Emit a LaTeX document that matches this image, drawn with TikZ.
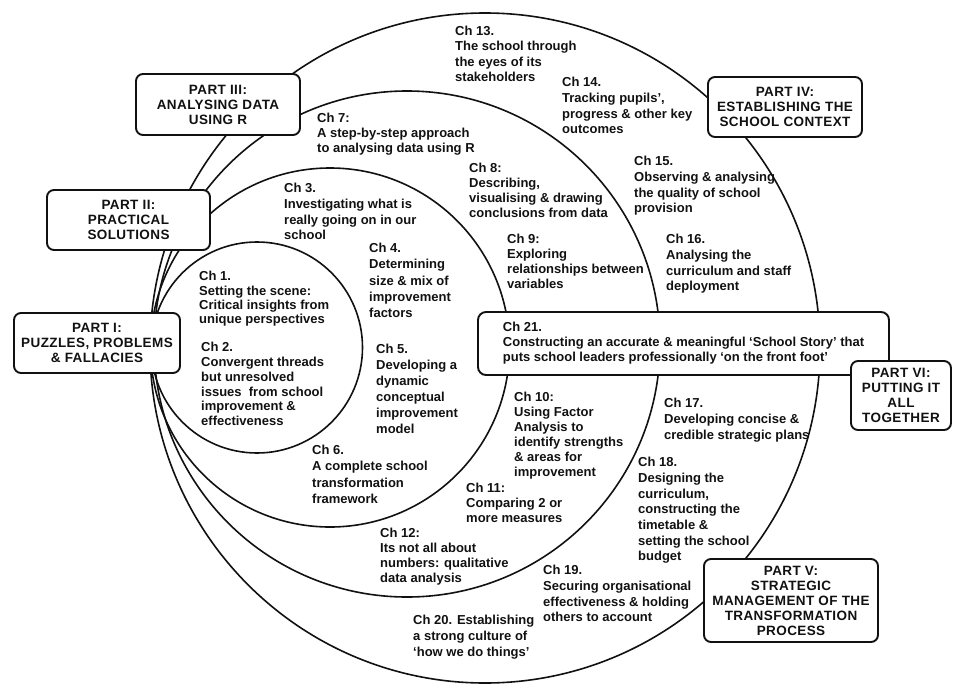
\documentclass[tikz,border=0pt]{standalone}
\usepackage{fontspec}
\setmainfont{Liberation Sans}
\newfontfamily\partfont[LetterSpace=3]{Liberation Sans}
\usepackage{tikz}
\usetikzlibrary{positioning}
\definecolor{ink}{HTML}{111111}
\tikzset{
  ring/.style={draw=ink, line width=1.6pt},
  part/.style={rectangle, rounded corners=7pt, draw=ink, fill=white,
               line width=1.9pt, align=center, inner sep=0pt, text=ink,
               font=\partfont\bfseries\fontsize{13.5}{15}\selectfont},
  chap/.style={anchor=north west, inner sep=0pt, align=left, text=ink,
               font=\bfseries\fontsize{13}{#1}\selectfont},
  chap/.default=15.5,
  story/.style={rectangle, rounded corners=8pt, draw=ink, fill=white,
                line width=1.9pt, align=left, inner sep=0pt, text=ink,
                font=\bfseries\fontsize{13}{15}\selectfont},
}
\begin{document}
\begin{tikzpicture}[x=1pt, y=-1pt]
  \useasboundingbox (0,0) rectangle (960,693);

  % the four nested rings
  \foreach \cx/\cy/\r in {257/347.5/105.5, 330/347.5/179.5, 407/344/253, 485/348/335}
    \draw[ring] (\cx,\cy) circle[radius=\r pt];

  % chapters
  \node[chap=15.3] (c13) at (455,26)  {Ch 13.\\The school through\\the eyes of its\\stakeholders};
  \node[chap=15.7] (c14) at (562,77)  {Ch 14.\\Tracking pupils’,\\progress \& other key\\outcomes};
  \node[chap=15]   (c7)  at (317,113) {Ch 7:\\A step-by-step approach\\to analysing data using R};
  \node[chap=15]   (c8)  at (469,163) {Ch 8:\\Describing,\\visualising \& drawing\\conclusions from data};
  \node[chap=15.7] (c15) at (634,156) {Ch 15.\\Observing \& analysing\\the quality of school\\provision};
  \node[chap=15.7] (c3)  at (284,183) {Ch 3.\\Investigating what is\\really going on in our\\school};
  \node[chap=15]   (c9)  at (507,234) {Ch 9:\\Exploring\\relationships between\\variables};
  \node[chap=15.7] (c16) at (666,234) {Ch 16.\\Analysing the\\curriculum and staff\\deployment};
  \node[chap=16.2] (c4)  at (369,243) {Ch 4.\\Determining\\size \& mix of\\improvement\\factors};
  \node[chap=14.4] (c1)  at (199,271) {Ch 1.\\Setting the scene:\\Critical insights from\\unique perspectives};
  \node[chap=14.8] (c2)  at (201,342) {Ch 2.\\Convergent threads\\but unresolved\\issues\ \ from school\\improvement \&\\effectiveness};
  \node[chap=16]   (c5)  at (376,344) {Ch 5.\\Developing a\\dynamic\\conceptual\\improvement\\model};
  \node[chap=16.3] (c6)  at (312,445) {Ch 6.\\A complete school\\transformation\\framework};
  \node[chap=15]   (c10) at (514,392) {Ch 10:\\Using Factor\\Analysis to\\identify strengths\\\& areas for\\improvement};
  \node[chap=15]   (c11) at (466,483) {Ch 11:\\Comparing 2 or\\more measures};
  \node[chap=15]   (c12) at (380,528) {Ch 12:\\Its not all about\\numbers: qualitative\\data analysis};
  \node[chap=16]   (c17) at (664,398) {Ch 17.\\Developing concise \&\\credible strategic plans};
  \node[chap=15.7] (c18) at (638,457) {Ch 18.\\Designing the\\curriculum,\\constructing the\\timetable \&\\setting the school\\budget};
  \node[chap=15.7] (c19) at (543,565) {Ch 19.\\Securing organisational\\effectiveness \& holding\\others to account};
  \node[chap=16]   (c20) at (413,615) {Ch 20. Establishing\\a strong culture of\\‘how we do things’};

  % the closing chapter
  \node[story, minimum width=411pt, minimum height=63pt] (c21) at (683.5,343.5)
    {Ch 21.\\Constructing an accurate \& meaningful ‘School Story’ that\\puts school leaders professionally ‘on the front foot’};

  % parts
  \node[part, minimum width=166pt, minimum height=60pt] (p1) at (97,343)    {PART I:\\PUZZLES, PROBLEMS\\\& FALLACIES};
  \node[part, minimum width=163pt, minimum height=60pt] (p2) at (128.5,220) {PART II:\\PRACTICAL\\SOLUTIONS};
  \node[part, minimum width=164pt, minimum height=61pt] (p3) at (218,104.5) {PART III:\\ANALYSING DATA\\USING R};
  \node[part, minimum width=154pt, minimum height=60pt] (p4) at (785,107)   {PART IV:\\ESTABLISHING THE\\SCHOOL CONTEXT};
  \node[part, minimum width=174pt, minimum height=83pt] (p5) at (791,600.5) {PART V:\\STRATEGIC\\MANAGEMENT OF THE\\TRANSFORMATION\\PROCESS};
  \node[part, minimum width=100pt, minimum height=69pt] (p6) at (901,395.5) {PART VI:\\PUTTING IT\\ALL\\TOGETHER};
\end{tikzpicture}
\end{document}
